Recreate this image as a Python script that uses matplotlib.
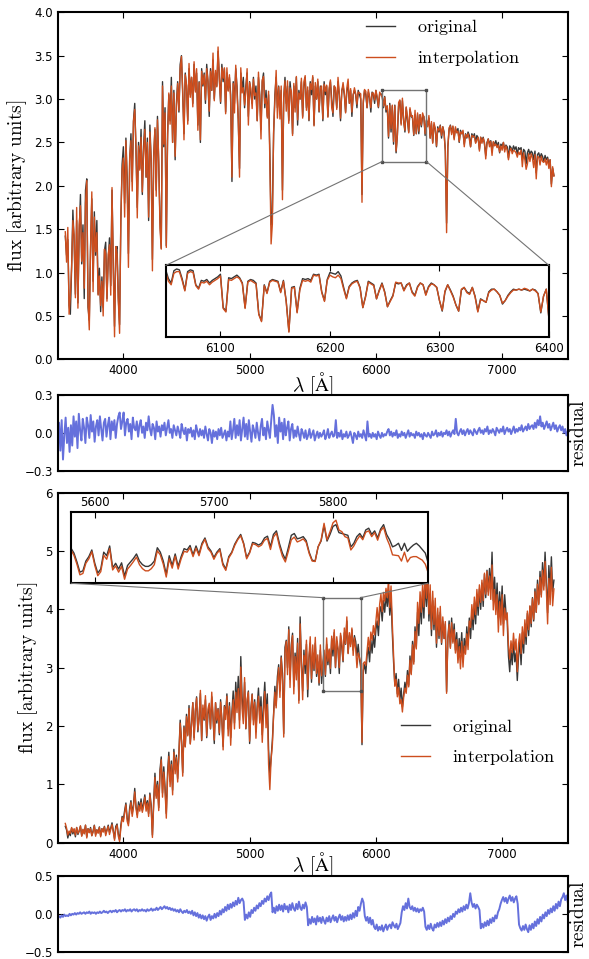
import numpy as np
import matplotlib.pyplot as plt
from matplotlib.patches import Rectangle, ConnectionPatch

plt.rcParams['mathtext.fontset'] = 'cm'
plt.rcParams['xtick.direction'] = 'in'
plt.rcParams['ytick.direction'] = 'in'
plt.rcParams['xtick.top'] = True
plt.rcParams['ytick.right'] = True
plt.rcParams['xtick.major.size'] = 4
plt.rcParams['ytick.major.size'] = 4
plt.rcParams['axes.linewidth'] = 1.5
plt.rcParams['font.size'] = 8.5

ORIG = '#363636'
INTERP = '#cd4e1e'
RESID = '#6570dc'

# spectra sampled every 10 A from 3540 A
wave_start, wave_step = 3540, 10

top_flux = [
    1.42, 1.20, 1.38, 0.62, 0.52, 1.05, 1.72, 1.35, 0.75, 1.60,
    0.65, 1.45, 1.90, 1.10, 1.55, 0.70, 1.95, 2.08, 0.60, 0.45,
    1.30, 1.85, 0.90, 1.70, 1.20, 1.60, 0.75, 1.05, 0.55, 0.95,
    0.60, 1.25, 1.35, 0.70, 1.15, 1.40, 0.85, 1.95, 1.10, 0.38,
    1.25, 1.30, 0.70, 0.40, 1.60, 2.25, 2.45, 1.80, 2.55, 2.10,
    1.22, 2.30, 2.60, 2.05, 2.75, 2.95, 2.40, 1.75, 2.50, 2.20,
    2.65, 1.90, 2.45, 2.75, 2.10, 2.55, 1.60, 2.70, 2.30, 1.15,
    2.35, 2.65, 1.95, 2.80, 2.25, 1.60, 1.28, 3.20, 2.45, 2.90,
    1.31, 2.60, 3.05, 2.75, 3.25, 2.50, 3.10, 2.30, 2.95, 3.20,
    2.85, 3.40, 3.50, 3.05, 2.60, 3.30, 3.15, 2.75, 3.35, 3.05,
    3.25, 2.95, 3.40, 3.10, 3.30, 2.70, 3.20, 2.50, 3.35, 3.15,
    3.30, 2.95, 3.40, 3.20, 2.80, 3.35, 3.10, 3.45, 3.00, 3.30,
    3.15, 3.55, 3.25, 2.95, 3.40, 3.20, 3.35, 2.85, 3.30, 3.10,
    3.25, 3.05, 2.05, 3.20, 2.95, 3.35, 3.15, 2.75, 2.20, 3.30,
    3.10, 3.25, 2.90, 3.15, 3.30, 2.80, 3.20, 3.05, 2.95, 3.25,
    3.00, 3.15, 2.75, 3.25, 3.05, 2.65, 3.20, 3.30, 2.90, 3.10,
    2.80, 3.05, 2.40, 1.55, 1.70, 2.60, 3.05, 3.25, 2.90, 3.15,
    2.85, 3.10, 1.95, 3.00, 3.25, 2.95, 3.15, 2.75, 3.20, 3.05,
    2.60, 3.15, 2.90, 3.25, 2.70, 3.10, 3.00, 3.20, 2.80, 3.15,
    3.25, 2.90, 3.10, 2.75, 3.20, 3.05, 3.25, 2.70, 3.15, 3.00,
    3.20, 2.85, 3.15, 3.10, 2.75, 3.20, 3.05, 3.15, 2.80, 3.10,
    3.20, 3.00, 2.80, 3.15, 3.10, 2.90, 3.20, 3.05, 2.75, 3.10,
    3.15, 3.05, 2.85, 3.10, 3.15, 2.95, 3.10, 2.80, 3.05, 3.10,
    3.05, 2.90, 3.10, 3.05, 3.00, 1.90, 2.95, 3.10, 3.05, 2.90,
    3.08, 3.02, 2.85, 3.08, 3.05, 2.95, 3.10, 3.00, 2.90, 3.06,
    3.06, 3.05, 2.90, 3.03, 2.85, 2.92, 2.55, 2.95, 2.62, 2.92,
    2.48, 2.93, 2.38, 2.58, 2.92, 2.98, 2.72, 2.98, 2.75, 2.62,
    2.90, 2.75, 2.62, 2.88, 2.80, 2.78, 2.58, 2.82, 2.60, 2.82,
    2.60, 2.82, 2.68, 2.80, 2.80, 2.58, 2.75, 2.70, 2.78, 2.55,
    2.72, 2.50, 2.70, 2.66, 2.45, 2.68, 2.62, 2.70, 2.55, 2.68,
    2.62, 2.40, 1.57, 2.45, 2.65, 2.70, 2.62, 2.68, 2.55, 2.66,
    2.62, 2.66, 2.50, 2.64, 2.60, 2.62, 2.48, 2.60, 2.55, 2.62,
    2.58, 2.45, 2.60, 2.56, 2.60, 2.50, 2.58, 2.55, 2.42, 2.56,
    2.52, 2.56, 2.48, 2.35, 2.50, 2.54, 2.48, 2.52, 2.40, 2.50,
    2.48, 2.52, 2.45, 2.50, 2.38, 2.48, 2.46, 2.50, 2.42, 2.47,
    2.45, 2.32, 2.46, 2.44, 2.40, 2.46, 2.42, 2.45, 2.36, 2.44,
    2.42, 2.44, 2.30, 2.42, 2.40, 2.25, 2.38, 2.42, 2.36, 2.40,
    2.38, 2.30, 2.40, 2.15, 2.36, 2.38, 2.32, 2.37, 2.34, 2.28,
    2.35, 2.30, 2.33, 2.25, 2.30, 2.02, 2.20, 2.12,
]

# original minus interpolation
top_resid = [
    -0.05, 0.08, -0.14, 0.10, -0.21, -0.02, 0.12, -0.08, 0.04, -0.15,
    0.06, -0.10, 0.13, -0.03, 0.09, -0.12, 0.15, 0.02, -0.06, 0.11,
    0.04, -0.08, 0.12, 0.06, -0.04, 0.14, 0.01, 0.09, -0.07, 0.05,
    0.10, -0.02, 0.13, 0.03, -0.06, 0.08, 0.11, -0.03, 0.06, 0.12,
    -0.05, 0.09, 0.02, 0.10, -0.04, 0.07, 0.13, 0.16, 0.03, 0.09,
    0.16, -0.02, 0.08, 0.11, 0.01, 0.07, -0.05, 0.12, 0.04, 0.02,
    0.09, -0.03, 0.06, 0.10, 0.00, 0.05, -0.04, 0.08, 0.02, 0.13,
    0.03, -0.02, 0.07, 0.04, -0.05, 0.09, 0.01, 0.05, -0.03, 0.06,
    0.02, 0.08, -0.02, 0.04, 0.10, 0.00, 0.03, -0.04, 0.06, 0.02,
    -0.02, 0.05, 0.01, -0.04, 0.07, 0.02, -0.01, 0.04, -0.06, 0.03,
    0.00, 0.04, -0.03, 0.02, -0.05, 0.06, 0.01, -0.03, 0.03, -0.02,
    0.02, -0.04, 0.05, -0.01, -0.06, 0.03, 0.00, -0.08, 0.02, -0.03,
    0.01, -0.05, 0.03, -0.02, 0.04, -0.04, -0.01, 0.02, -0.06, 0.01,
    -0.03, 0.09, -0.05, 0.02, 0.11, -0.04, 0.06, -0.02, 0.10, -0.06,
    0.03, 0.12, -0.03, 0.07, -0.05, 0.10, 0.01, -0.07, 0.06, 0.02,
    -0.04, 0.08, 0.00, -0.06, 0.05, 0.11, -0.02, 0.04, -0.05, 0.09,
    0.02, -0.04, 0.10, 0.22, 0.14, -0.03, 0.06, -0.08, 0.12, 0.01,
    0.08, -0.05, 0.11, -0.02, 0.04, 0.09, -0.06, 0.03, 0.07, -0.04,
    0.02, -0.03, 0.05, -0.01, -0.06, 0.03, 0.00, -0.04, 0.02, -0.05,
    -0.02, 0.03, -0.04, -0.01, 0.02, -0.06, -0.02, 0.01, -0.04, 0.00,
    -0.03, -0.01, 0.02, -0.05, -0.02, 0.03, -0.04, -0.01, 0.01, -0.03,
    -0.02, 0.10, -0.04, 0.00, -0.03, 0.02, -0.05, -0.01, -0.03, 0.01,
    -0.04, -0.02, 0.01, -0.03, -0.08, 0.00, -0.02, -0.05, 0.01, -0.03,
    -0.01, -0.04, 0.02, -0.02, -0.06, 0.09, -0.03, -0.01, -0.04, 0.00,
    -0.03, -0.01, -0.05, 0.01, -0.02, -0.04, 0.00, -0.03, -0.01, -0.02,
    0.01, 0.03, -0.02, 0.01, -0.03, 0.00, -0.02, 0.02, -0.04, -0.01,
    -0.03, 0.01, -0.02, 0.00, -0.04, -0.01, 0.02, -0.03, 0.00, -0.02,
    -0.01, -0.04, 0.01, -0.02, 0.00, -0.03, -0.01, -0.05, 0.00, -0.02,
    -0.03, 0.00, -0.02, -0.04, 0.01, -0.02, -0.01, 0.02, -0.03, 0.00,
    -0.02, 0.01, -0.03, 0.00, -0.01, 0.02, -0.02, 0.01, -0.03, 0.00,
    0.02, -0.01, 0.11, 0.00, -0.02, 0.01, 0.03, -0.01, 0.02, -0.02,
    0.01, 0.03, -0.01, 0.02, 0.00, -0.02, 0.03, 0.01, -0.01, 0.02,
    0.04, 0.00, 0.02, -0.01, 0.03, 0.01, 0.05, -0.01, 0.02, 0.00,
    0.03, 0.01, -0.02, 0.04, 0.02, 0.00, 0.03, 0.01, 0.05, -0.01,
    0.02, 0.04, 0.01, 0.03, -0.01, 0.02, 0.05, 0.00, 0.03, 0.01,
    0.04, 0.02, 0.06, 0.01, 0.03, 0.05, 0.02, 0.07, 0.03, 0.05,
    0.06, 0.03, 0.08, 0.04, 0.10, 0.06, 0.13, 0.05, 0.08, 0.03,
    0.06, 0.09, 0.04, 0.07, 0.02, 0.05, 0.08, 0.03, 0.06, 0.01,
    0.04, 0.06, 0.02, 0.05, 0.00, 0.03, -0.02, 0.01,
]

bot_flux = [
    0.28, 0.22, 0.08, 0.18, 0.12, 0.25, 0.15, 0.22, 0.10, 0.26,
    0.14, 0.20, 0.28, 0.12, 0.22, 0.16, 0.30, 0.10, 0.24, 0.18,
    0.26, 0.12, 0.20, 0.30, 0.14, 0.22, 0.18, 0.27, 0.12, 0.24,
    0.20, 0.28, 0.15, 0.22, 0.30, 0.18, 0.25, 0.34, 0.20, 0.07,
    0.28, 0.32, 0.15, 0.05, 0.30, 0.45, 0.40, 0.55, 0.68, 0.42,
    0.33, 0.60, 0.72, 0.50, 0.65, 0.93, 0.62, 0.48, 0.70, 0.58,
    0.75, 0.55, 0.68, 0.82, 0.60, 0.72, 0.50, 0.85, 0.65, 0.13,
    0.70, 1.19, 0.80, 1.05, 0.60, 1.25, 1.47, 0.85, 1.30, 0.95,
    0.50, 1.20, 1.55, 1.05, 1.40, 0.90, 1.60, 1.25, 1.50, 1.10,
    1.55, 2.10, 1.75, 1.20, 2.00, 1.65, 2.20, 1.85, 2.35, 1.70,
    2.05, 2.40, 1.80, 2.25, 2.50, 1.90, 2.15, 2.56, 1.75, 2.30,
    2.10, 2.45, 1.80, 2.20, 2.35, 1.95, 2.50, 2.15, 1.70, 2.40,
    2.05, 2.30, 1.85, 2.45, 2.10, 1.65, 2.35, 2.20, 2.55, 1.95,
    2.40, 1.80, 2.25, 2.60, 2.05, 2.75, 2.35, 2.85, 2.10, 3.19,
    2.50, 2.20, 2.75, 1.95, 2.40, 2.60, 1.70, 2.30, 2.55, 2.10,
    2.45, 1.90, 2.35, 2.65, 2.15, 2.50, 1.85, 2.40, 2.75, 2.20,
    2.55, 1.60, 1.19, 1.45, 1.75, 2.20, 2.68, 2.35, 2.85, 3.05,
    2.60, 3.20, 2.90, 1.87, 3.35, 3.47, 3.00, 3.70, 2.80, 3.40,
    3.59, 2.68, 3.25, 2.95, 3.50, 2.44, 3.87, 3.10, 2.60, 3.30,
    2.90, 3.40, 2.50, 3.15, 3.42, 2.75, 3.25, 2.95, 3.42, 2.85,
    3.10, 2.70, 3.30, 2.73, 3.05, 3.20, 2.85, 3.40, 3.05, 3.30,
    2.90, 3.50, 3.20, 3.60, 3.00, 3.45, 3.30, 2.90, 3.55, 3.35,
    3.10, 3.60, 3.40, 3.80, 3.25, 3.55, 3.40, 3.65, 3.30, 3.55,
    3.45, 3.20, 3.40, 3.15, 3.00, 1.68, 2.95, 3.05, 2.90, 3.20,
    3.35, 3.10, 3.47, 3.25, 3.55, 3.35, 3.65, 3.80, 3.55, 3.95,
    4.05, 3.80, 4.15, 3.95, 4.25, 4.05, 4.33, 3.90, 4.20, 3.60,
    3.10, 2.70, 2.90, 2.55, 2.80, 2.45, 2.65, 2.33, 2.55, 2.75,
    2.60, 2.95, 2.70, 3.20, 2.90, 3.45, 3.10, 3.70, 3.35, 3.95,
    3.55, 4.15, 3.75, 4.30, 3.85, 4.45, 4.05, 4.53, 3.80, 4.25,
    3.55, 4.15, 3.65, 4.05, 3.35, 3.90, 3.50, 3.95, 3.40, 3.80,
    3.50, 3.75, 2.59, 3.50, 3.80, 3.35, 3.85, 3.45, 3.75, 3.30,
    3.60, 3.15, 3.50, 3.25, 3.60, 3.10, 3.50, 3.30, 3.70, 3.40,
    3.85, 3.50, 3.95, 3.65, 4.10, 3.75, 4.25, 3.90, 4.35, 4.00,
    4.45, 4.05, 4.60, 4.20, 4.67, 4.30, 4.70, 4.35, 4.98, 4.15,
    4.55, 4.05, 4.45, 3.85, 4.30, 3.95, 4.40, 3.75, 4.25, 3.95,
    3.80, 3.20, 2.93, 3.30, 3.05, 3.45, 3.10, 3.25, 2.78, 3.20,
    3.45, 3.05, 3.60, 3.25, 3.75, 3.40, 3.93, 3.55, 4.05, 3.70,
    4.20, 3.80, 4.35, 3.95, 4.50, 4.10, 4.65, 4.25, 4.80, 4.40,
    4.98, 4.45, 3.94, 4.75, 4.35, 4.90, 4.30, 4.50,
]

bot_resid = [
    -0.05, -0.03, -0.05, -0.02, -0.04, -0.01, -0.03, -0.02, -0.03, 0.00,
    -0.02, 0.00, -0.01, 0.01, -0.01, 0.01, 0.00, 0.02, 0.00, 0.01,
    0.02, 0.00, 0.02, 0.01, 0.03, 0.00, 0.02, 0.01, 0.02, 0.00,
    0.02, 0.01, 0.03, 0.01, 0.02, 0.04, 0.02, 0.03, 0.01, 0.03,
    0.04, 0.02, 0.04, 0.03, 0.05, 0.02, 0.04, 0.05, 0.03, 0.05,
    0.04, 0.06, 0.03, 0.05, 0.04, 0.06, 0.03, 0.05, 0.06, 0.04,
    0.06, 0.03, 0.05, 0.04, 0.06, 0.04, 0.05, 0.03, 0.06, 0.04,
    0.05, 0.07, 0.04, 0.06, 0.05, 0.08, 0.05, 0.07, 0.09, 0.06,
    0.08, 0.10, 0.07, 0.09, 0.06, 0.08, 0.05, 0.07, 0.04, 0.06,
    0.03, 0.05, 0.02, 0.06, 0.03, 0.01, 0.04, 0.02, 0.05, 0.01,
    0.03, 0.00, 0.04, -0.02, 0.02, -0.03, 0.01, -0.05, -0.01, -0.06,
    -0.02, -0.07, -0.03, -0.09, -0.04, -0.01, -0.08, -0.03, -0.06, 0.00,
    -0.05, 0.01, -0.03, 0.04, -0.01, 0.06, 0.02, 0.09, 0.04, 0.12,
    0.06, 0.13, 0.08, 0.15, 0.10, 0.17, 0.12, 0.21, 0.14, 0.18,
    0.20, 0.16, -0.08, -0.01, -0.06, 0.02, -0.04, 0.05, 0.01, 0.08,
    0.04, 0.11, 0.07, 0.14, 0.10, 0.17, 0.13, 0.20, 0.16, 0.23,
    0.18, 0.25, 0.28, 0.02, 0.08, 0.01, 0.10, 0.04, 0.12, 0.05,
    0.11, 0.03, 0.13, 0.06, 0.10, 0.02, 0.12, 0.05, 0.14, 0.07,
    0.04, 0.13, 0.06, 0.16, 0.08, 0.05, 0.12, 0.07, 0.15, 0.09,
    -0.15, -0.07, -0.13, -0.04, -0.11, -0.06, -0.14, -0.03, -0.10, -0.05,
    -0.12, -0.04, -0.09, -0.13, -0.05, -0.10, -0.03, -0.11, -0.06, -0.02,
    -0.09, -0.04, -0.11, -0.05, -0.01, -0.08, -0.03, -0.10, -0.04, -0.09,
    -0.02, -0.08, -0.01, -0.07, 0.01, -0.05, 0.04, -0.03, 0.09, 0.04,
    0.13, 0.20, 0.15, -0.03, -0.09, -0.04, -0.12, -0.05, -0.14, -0.08,
    -0.17, -0.20, -0.14, -0.22, -0.17, -0.21, -0.15, -0.23, -0.18, -0.14,
    -0.21, -0.16, -0.14, -0.19, -0.11, -0.15, -0.18, -0.13, -0.20, -0.16,
    -0.12, 0.02, 0.10, 0.05, 0.14, 0.07, 0.20, 0.09, 0.06, 0.10,
    0.04, 0.08, 0.03, 0.07, 0.02, 0.06, 0.04, 0.08, 0.03, -0.17,
    -0.21, -0.15, -0.20, -0.13, -0.19, -0.22, -0.14, -0.18, -0.12, -0.17,
    -0.11, -0.16, -0.09, -0.14, -0.07, -0.12, -0.05, -0.10, -0.03, -0.07,
    0.00, -0.04, 0.03, 0.00, 0.06, 0.02, 0.08, 0.03, 0.10, 0.05,
    0.12, 0.07, 0.14, 0.27, 0.15, 0.09, 0.13, 0.07, 0.12, 0.09,
    0.05, -0.19, -0.13, -0.18, -0.11, -0.16, -0.09, -0.15, -0.07, -0.12,
    -0.05, -0.10, -0.02, -0.06, 0.02, 0.06, 0.13, 0.18, 0.22, 0.16,
    0.21, 0.14, 0.20, 0.24, 0.17, 0.22, 0.15, 0.20, 0.23, 0.13,
    -0.14, -0.19, -0.22, -0.16, -0.21, -0.14, -0.20, -0.24, -0.15, -0.21,
    -0.13, -0.19, -0.10, -0.16, -0.07, -0.13, -0.04, -0.10, -0.01, -0.06,
    0.02, -0.03, 0.05, 0.00, 0.07, 0.02, 0.10, 0.04, 0.13, 0.07,
    0.16, 0.10, 0.19, 0.22, 0.27, 0.18, 0.24, 0.15,
]

# zoomed windows, sampled every 2.5 A
top_zoom_start = 6050
top_zoom_flux = [
    3.05, 2.95, 2.90, 3.04, 3.06, 3.05, 2.95, 2.82, 3.03, 3.05,
    3.04, 2.88, 2.84, 2.93, 2.92, 2.94, 2.90, 2.93, 2.95, 2.97,
    3.00, 2.62, 2.58, 2.96, 2.95, 2.97, 2.99, 2.96, 2.90, 2.62,
    2.92, 2.94, 2.93, 2.90, 2.55, 2.47, 2.88, 2.79, 2.92, 2.94,
    2.93, 2.92, 2.80, 2.93, 2.70, 2.35, 2.85, 2.86, 2.57, 2.84,
    2.95, 2.94, 2.95, 2.93, 3.00, 2.99, 3.00, 2.80, 2.70, 2.94,
    3.02, 3.01, 3.00, 3.03, 2.98, 2.85, 2.73, 2.86, 2.90, 2.92,
    2.93, 2.85, 2.62, 2.75, 2.92, 2.90, 2.88, 2.72, 2.82, 2.90,
    2.80, 2.63, 2.70, 2.76, 2.90, 2.89, 2.90, 2.82, 2.88, 2.90,
    2.80, 2.76, 2.86, 2.90, 2.88, 2.77, 2.86, 2.90, 2.88, 2.85,
    2.70, 2.58, 2.80, 2.88, 2.82, 2.75, 2.65, 2.58, 2.82, 2.85,
    2.80, 2.78, 2.85, 2.75, 2.58, 2.72, 2.70, 2.68, 2.80, 2.83,
    2.83, 2.80, 2.76, 2.66, 2.70, 2.76, 2.80, 2.83, 2.82, 2.83,
    2.82, 2.83, 2.82, 2.81, 2.83, 2.82, 2.78, 2.56, 2.75, 2.83,
    2.48,
]
top_zoom_resid = [
    0.03, 0.03, 0.02, 0.03, 0.03, 0.02, 0.02, 0.01, 0.02, 0.02,
    0.02, 0.01, 0.01, 0.02, 0.02, 0.02, 0.02, 0.02, 0.02, 0.02,
    0.02, 0.01, 0.01, 0.02, 0.02, 0.02, 0.02, 0.01, 0.01, 0.01,
    0.01, 0.01, 0.02, 0.01, 0.01, 0.01, 0.01, 0.01, 0.01, 0.01,
    0.01, 0.01, 0.01, 0.01, 0.01, 0.01, 0.01, 0.01, 0.01, 0.02,
    0.02, 0.02, 0.02, 0.02, 0.01, 0.01, 0.01, 0.01, 0.01, 0.01,
    0.03, 0.04, 0.04, 0.04, 0.03, 0.02, 0.01, 0.01, 0.01, 0.01,
    0.01, 0.01, 0.00, 0.01, 0.01, 0.01, 0.01, 0.00, 0.01, 0.01,
    0.01, 0.00, 0.01, 0.01, -0.01, -0.01, 0.00, 0.01, 0.01, 0.00,
    0.01, 0.01, 0.01, 0.00, 0.00, 0.01, 0.01, 0.01, 0.00, 0.00,
    0.00, -0.01, -0.01, 0.00, 0.01, 0.01, 0.00, 0.00, -0.01, 0.00,
    0.01, 0.01, 0.00, 0.01, 0.01, 0.01, 0.00, 0.00, 0.01, 0.01,
    0.00, 0.00, 0.00, -0.01, 0.00, 0.01, 0.01, 0.01, 0.00, 0.00,
    0.00, -0.01, -0.01, 0.00, 0.00, 0.01, 0.00, -0.01, 0.00, 0.00,
    0.00,
]

bot_zoom_start = 5580
bot_zoom_flux = [
    3.39, 3.28, 3.08, 2.85, 2.88, 3.10, 3.20, 3.35, 3.05, 2.83,
    2.92, 3.30, 3.22, 3.44, 2.95, 3.05, 2.92, 3.06, 2.76, 3.00,
    3.08, 3.16, 3.26, 3.10, 3.02, 2.98, 2.98, 3.02, 3.10, 3.40,
    3.30, 3.10, 2.80, 3.22, 3.00, 3.26, 2.98, 3.20, 3.38, 3.35,
    3.45, 3.24, 3.44, 3.26, 3.50, 3.62, 3.42, 3.33, 3.18, 3.30,
    3.38, 3.05, 2.92, 3.20, 3.30, 3.48, 3.60, 3.70, 3.50, 3.18,
    3.30, 3.52, 3.50, 3.46, 3.50, 3.62, 3.66, 3.42, 3.70, 3.78,
    3.50, 3.28, 3.14, 3.40, 3.68, 3.72, 3.60, 3.62, 3.65, 3.56,
    3.30, 3.12, 3.10, 3.42, 3.55, 3.90, 3.55, 3.70, 3.88, 3.92,
    3.74, 3.72, 3.70, 3.68, 3.42, 3.50, 3.65, 3.72, 3.62, 3.80,
    3.84, 3.70, 3.78, 3.62, 3.82, 3.92, 3.70, 3.58, 3.42, 3.45,
    3.50, 3.34, 3.50, 3.32, 3.40, 3.46, 3.50, 3.44, 3.36, 3.28,
    3.05,
]
bot_zoom_resid = [
    0.04, 0.05, 0.05, 0.06, 0.06, 0.05, 0.05, 0.04, 0.05, 0.06,
    0.06, 0.07, 0.08, 0.06, 0.05, 0.06, 0.07, 0.08, 0.07, 0.08,
    0.08, 0.07, 0.07, 0.08, 0.09, 0.10, 0.10, 0.09, 0.08, 0.07,
    0.06, 0.07, 0.06, 0.07, 0.06, 0.05, 0.06, 0.05, 0.06, 0.05,
    0.05, 0.04, 0.05, 0.04, 0.04, 0.03, 0.04, 0.03, 0.04, 0.03,
    0.03, 0.04, 0.03, 0.03, 0.02, 0.03, 0.02, 0.03, 0.02, 0.03,
    0.02, 0.03, 0.03, 0.04, 0.04, 0.05, 0.05, 0.06, 0.06, 0.05,
    0.06, 0.07, 0.06, 0.08, 0.10, 0.08, 0.07, 0.06, 0.05, 0.04,
    0.03, 0.02, 0.01, 0.00, -0.02, -0.05, -0.03, -0.06, -0.08, -0.10,
    -0.06, -0.04, 0.05, 0.06, 0.07, 0.06, 0.08, 0.05, 0.04, 0.05,
    0.06, 0.05, 0.04, 0.05, 0.04, 0.06, 0.08, 0.12, 0.18, 0.22,
    0.28, 0.24, 0.20, 0.24, 0.22, 0.26, 0.30, 0.28, 0.24, 0.25,
    0.22,
]

top_box = (6050, 6400, 2.28, 3.10)
bot_box = (5580, 5880, 2.60, 4.20)


def spectrum_arrays(start, step, flux, resid):
    w = start + step * np.arange(len(flux))
    f = np.array(flux)
    r = np.array(resid)
    return w, f, f - r, r


w_top, f_top, i_top, r_top = spectrum_arrays(wave_start, wave_step, top_flux, top_resid)
w_bot, f_bot, i_bot, r_bot = spectrum_arrays(wave_start, wave_step, bot_flux, bot_resid)
wz_top, fz_top, iz_top, _ = spectrum_arrays(top_zoom_start, 2.5, top_zoom_flux, top_zoom_resid)
wz_bot, fz_bot, iz_bot, _ = spectrum_arrays(bot_zoom_start, 2.5, bot_zoom_flux, bot_zoom_resid)

fig = plt.figure(figsize=(5.89, 9.59), dpi=100)
fig.patch.set_facecolor('white')

L, W = 0.098, 0.866
# residual panels first so the spectrum labels sit on top of them
res1 = fig.add_axes([L, 0.5089, W, 0.0795])
res2 = fig.add_axes([L, 0.0073, W, 0.0796])
ax1 = fig.add_axes([L, 0.6253, W, 0.3619])
ax2 = fig.add_axes([L, 0.1213, W, 0.3650])
ins1 = fig.add_axes([0.2813, 0.6481, 0.6508, 0.0751])
ins2 = fig.add_axes([0.1205, 0.3918, 0.6066, 0.0741])

ylab = r'$\mathrm{flux\ [arbitrary\ units]}$'
xlab = r'$\lambda\ [\mathrm{\AA}]$'


def main_panel(ax, w, f, i, ylim, yticks, xlab_y):
    ax.plot(w, f, color=ORIG, lw=1.0, label=r'$\mathrm{original}$')
    ax.plot(w, i, color=INTERP, lw=1.0, label=r'$\mathrm{interpolation}$')
    ax.set_xlim(3480, 7520)
    ax.set_ylim(*ylim)
    ax.set_xticks([4000, 5000, 6000, 7000])
    ax.set_yticks(yticks)
    ax.set_xlabel(xlab, fontsize=14)
    ax.xaxis.set_label_coords(0.5, xlab_y)
    ax.set_ylabel(ylab, fontsize=14, labelpad=4)


def resid_panel(ax, w, r, lim):
    ax.plot(w, r, color=RESID, lw=1.4)
    ax.set_xlim(w[0], w[-1])
    ax.set_ylim(-lim, lim)
    ax.set_yticks([-lim, 0, lim])
    ax.set_xticks([])
    ax.yaxis.set_label_position('right')
    ax.set_ylabel(r'$\mathrm{residual}$', fontsize=14, labelpad=1)


def zoom_panel(ax, w, f, i, box, ticks, top_labels):
    ax.plot(w, f, color=ORIG, lw=1.0)
    ax.plot(w, i, color=INTERP, lw=1.0)
    ax.set_xlim(box[0], box[1])
    ax.set_ylim(box[2], box[3])
    ax.set_yticks([])
    ax.set_xticks(ticks)
    if top_labels:
        ax.tick_params(axis='x', labeltop=True, labelbottom=False, pad=2)
    else:
        ax.tick_params(axis='x', pad=3)


def link(ax, inset, box, corners):
    x0, x1, y0, y1 = box
    rect = Rectangle((x0, y0), x1 - x0, y1 - y0, fill=False, ec='0.45', lw=1.0, zorder=5)
    ax.add_patch(rect)
    ax.plot([x0, x1, x0, x1], [y0, y0, y1, y1], 's', ms=2, color='0.3', zorder=6)
    for xy_in, xy_data in corners:
        con = ConnectionPatch(xyA=xy_in, coordsA=inset.transAxes,
                              xyB=xy_data, coordsB=ax.transData,
                              color='0.45', lw=0.8)
        fig.add_artist(con)


main_panel(ax1, w_top, f_top, i_top, (0, 4.0), np.arange(0, 4.01, 0.5), -0.03)
main_panel(ax2, w_bot, f_bot, i_bot, (0, 6), np.arange(0, 7, 1), -0.022)
ax1.yaxis.set_major_formatter(plt.FormatStrFormatter('%.1f'))

resid_panel(res1, w_top, r_top, 0.3)
resid_panel(res2, w_bot, r_bot, 0.5)

zoom_panel(ins1, wz_top, fz_top, iz_top, top_box, [6100, 6200, 6300, 6400], False)
zoom_panel(ins2, wz_bot, fz_bot, iz_bot, bot_box, [5600, 5700, 5800], True)

link(ax1, ins1, top_box, [((0, 1), (top_box[0], top_box[2])), ((1, 1), (top_box[1], top_box[2]))])
link(ax2, ins2, bot_box, [((0, 0), (bot_box[0], bot_box[3])), ((1, 0), (bot_box[1], bot_box[3]))])

ax1.legend(loc='upper left', bbox_to_anchor=(0.605, 0.985), frameon=False, fontsize=13,
           handlelength=1.6, handletextpad=1.2, labelspacing=0.6, borderpad=0, borderaxespad=0)
ax2.legend(loc='upper left', bbox_to_anchor=(0.673, 0.36), frameon=False, fontsize=13,
           handlelength=1.6, handletextpad=1.2, labelspacing=0.6, borderpad=0, borderaxespad=0)

fig.savefig('out.png', dpi=100, facecolor='white')
